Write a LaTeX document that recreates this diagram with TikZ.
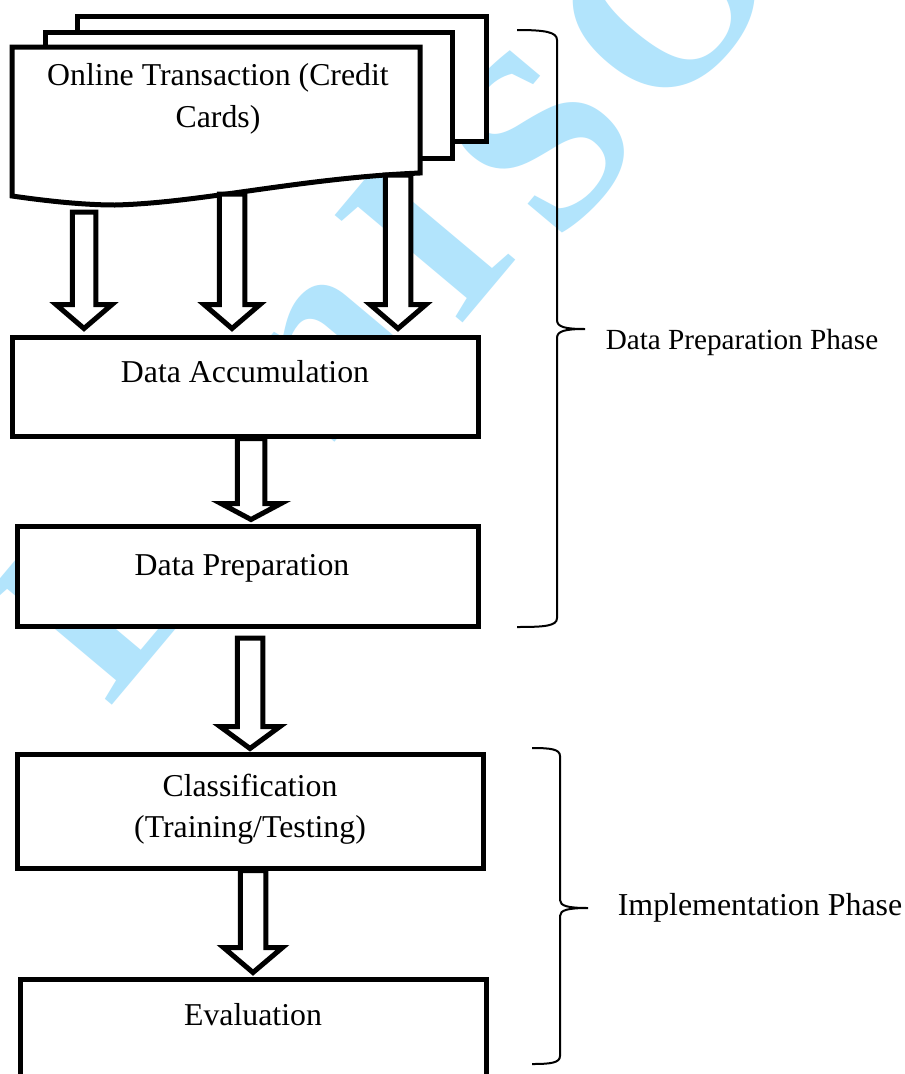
\documentclass[tikz,border=0pt]{standalone}
\usepackage{fontspec}
\setmainfont{Liberation Serif}
\usetikzlibrary{calc}
\definecolor{wmblue}{RGB}{178,228,252}
\newcommand{\blockarrow}[6]{%
  \draw[blk] let \p1=(#1), \p2=(#2) in
    (\x1-#3pt,\y1) -- (\x1+#3pt,\y1) -- (\x1+#3pt,\y2+#6pt+#5pt)
    -- (\x1+#4pt,\y2+#6pt+#5pt) -- (\x1,\y2+#6pt)
    -- (\x1-#4pt,\y2+#6pt+#5pt) -- (\x1-#3pt,\y2+#6pt+#5pt) -- cycle;}
\begin{document}
\begin{tikzpicture}[x=1pt,y=-1pt,
  wm/.style={text=wmblue,font=\fontsize{255}{255}\selectfont\bfseries,inner sep=0,rotate=50},
  sheet/.style={draw=black,fill=white,line width=5pt,line join=miter},
  boxst/.style={draw=black,fill=white,line width=5pt,rectangle,inner sep=0},
  blk/.style={draw=black,fill=white,line width=5pt,line join=miter},
  brc/.style={draw=black,line width=2pt},
  txt/.style={font=\fontsize{31.8}{38}\selectfont,inner sep=0,anchor=base},
  lbla/.style={font=\fontsize{29.2}{35}\selectfont,inner sep=0,anchor=base},
  lblb/.style={font=\fontsize{31.9}{38}\selectfont,inner sep=0,anchor=base}]
\useasboundingbox (0,0) rectangle (905,1074);
\fill[white] (0,0) rectangle (905,1074);
% watermark
\node[wm] (w1) at (100,590) {L};
\node[wm] (w2) at (330,355) {n};
\node[wm] (w3) at (425,238) {I};
\node[wm] (w4) at (540,140) {S};
\node[wm] (w5) at (665,-3) {O};
% document stack
\draw[sheet] (77,16) -- (486,16) -- (486,141) -- (77,141) -- cycle;
\draw[sheet] (45,32) -- (452,32) -- (452,158) -- (45,158) -- cycle;
\draw[sheet] (12,47) -- (420,47) -- (420,173)
  .. controls (300,178) and (200,203) .. (115,205)
  .. controls (80,205) and (40,200) .. (12,196) -- cycle;
\node[txt] (doc1) at (218,85) {Online Transaction (Credit};
\node[txt] (doc2) at (218,127) {Cards)};
% boxes
\node[boxst,minimum width=466pt,minimum height=99pt] (da) at (245,386.5) {};
\node[boxst,minimum width=461pt,minimum height=100pt] (dp) at (247.5,576) {};
\node[boxst,minimum width=466pt,minimum height=114pt] (cl) at (250,811) {};
\node[boxst,minimum width=466pt,minimum height=140pt] (ev) at (253,1049) {};
\node[txt] (tda) at ([yshift=-47.5pt]da.north) {Data Accumulation};
\node[txt] (tdp) at ([xshift=-5.5pt,yshift=-51.5pt]dp.north) {Data Preparation};
\node[txt] (tcl1) at ([yshift=-44.5pt]cl.north) {Classification};
\node[txt] (tcl2) at ([yshift=-85.5pt]cl.north) {(Training/Testing)};
\node[txt] (tev) at ([yshift=-48.5pt]ev.north) {Evaluation};
% arrows
\coordinate (a1) at (84,212);
\coordinate (a2) at (232,194);
\coordinate (a3) at (398,175);
\coordinate (a4) at (251,0);
\coordinate (a5) at (250,638);
\coordinate (a6) at (253,0);
\blockarrow{a1}{a1 |- da.north}{11.75}{28}{24}{6}
\blockarrow{a2}{a2 |- da.north}{12.75}{28}{24}{6}
\blockarrow{a3}{a3 |- da.north}{12.75}{28}{24}{6}
\blockarrow{a4 |- da.south}{a4 |- dp.north}{13.75}{30}{16}{4}
\blockarrow{a5}{a5 |- cl.north}{12.75}{30}{22}{3}
\blockarrow{a6 |- cl.south}{a6 |- ev.north}{12.75}{29.5}{25}{4}
% braces
\draw[brc] (517,30) .. controls (545,30) and (557,32) .. (557,40) -- (557,320)
  .. controls (557,327) and (565,329) .. (585,329)
  .. controls (565,329) and (557,331) .. (557,338) -- (557,618)
  .. controls (557,626) and (545,627) .. (517,627);
\draw[brc] (532,748) .. controls (550,748) and (560,749) .. (560,756) -- (560,900)
  .. controls (560,906) and (568,908) .. (588,908)
  .. controls (568,908) and (560,910) .. (560,916) -- (560,1056)
  .. controls (560,1063) and (550,1064) .. (532,1064);
\node[lbla] (ph1) at (742,349) {Data Preparation Phase};
\node[lblb] (ph2) at (760,915) {Implementation Phase};
\end{tikzpicture}
\end{document}
